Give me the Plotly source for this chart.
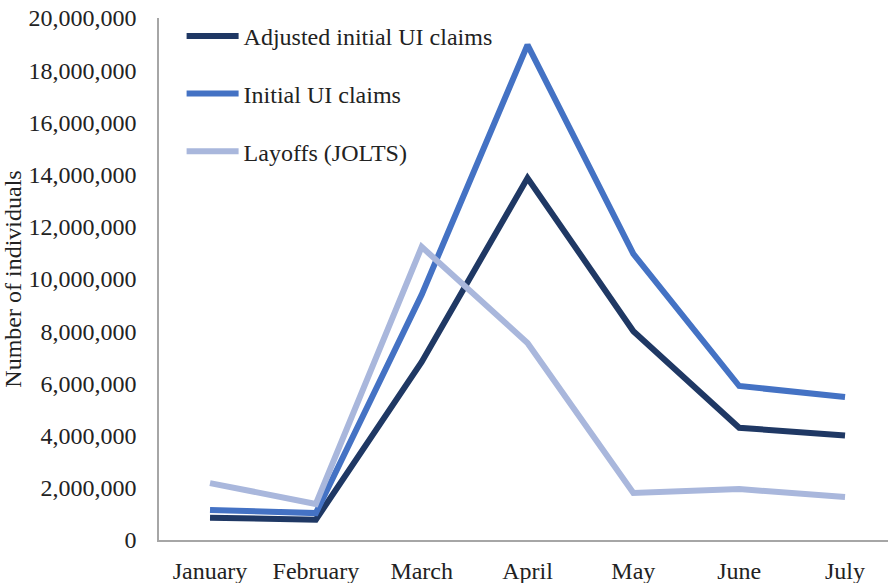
import plotly.graph_objects as go

months = ["January", "February", "March", "April", "May", "June", "July"]
adjusted = [850000, 780000, 6820000, 13870000, 8000000, 4300000, 4000000]
initial = [1150000, 1030000, 9400000, 18970000, 10960000, 5900000, 5480000]
layoffs = [2180000, 1380000, 11230000, 7550000, 1800000, 1950000, 1650000]

series = [
    ("Adjusted initial UI claims", adjusted, "#1f3864"),
    ("Initial UI claims", initial, "#4472c4"),
    ("Layoffs (JOLTS)", layoffs, "#a9b7dc"),
]

font_family = "Liberation Serif, Times New Roman, serif"

fig = go.Figure()
for i, (name, vals, color) in enumerate(series):
    fig.add_trace(go.Scatter(
        x=months, y=vals, name=name, mode="lines",
        line=dict(color=color, width=6),
        legendgroup=f"g{i}",
    ))

fig.update_layout(
    width=888, height=583,
    margin=dict(l=159, r=0, t=18, b=43),
    paper_bgcolor="white", plot_bgcolor="white",
    font=dict(family=font_family, size=24, color="#222222"),
    showlegend=True,
    legend=dict(
        x=0.031, y=1.008, xanchor="left", yanchor="top",
        bgcolor="rgba(0,0,0,0)",
        font=dict(family=font_family, size=24, color="#222222"),
        tracegroupgap=23.5,
        itemwidth=52,
    ),
    xaxis=dict(
        type="category", range=[-0.482, 6.406],
        showgrid=False, showline=True, linecolor="#a6a6a6", linewidth=1.5,
        ticks="", tickfont=dict(size=24), automargin=False,
        ticklabelstandoff=8,
    ),
    yaxis=dict(
        range=[0, 20000000], dtick=2000000, tickformat=",d",
        showgrid=False, showline=True, linecolor="#a6a6a6", linewidth=1.5,
        ticks="", ticklen=0, tickfont=dict(size=24), automargin=False,
        ticklabelstandoff=16,
        title=dict(text="Number of individuals", font=dict(size=24), standoff=0),
        zeroline=False,
    ),
)

fig.write_html(
    "out.html",
    config={"displayModeBar": False},
    post_script="document.body.style.margin='0';document.body.style.overflow='hidden';",
)
